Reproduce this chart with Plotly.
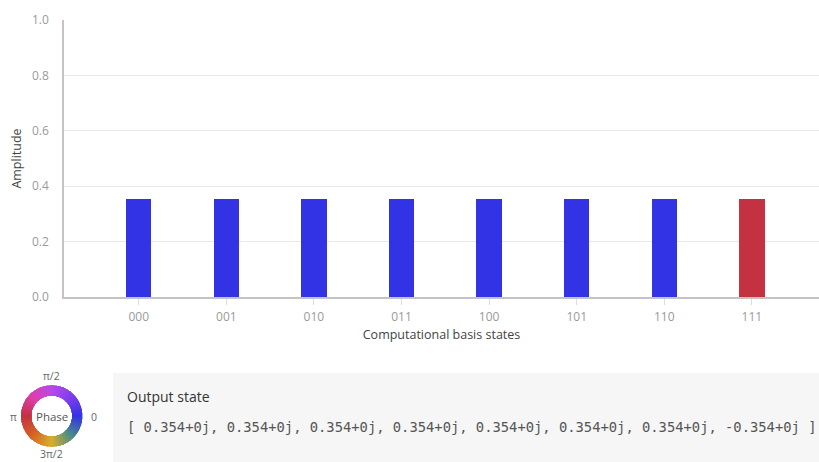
import numpy as np
import plotly.graph_objects as go

# Basis states and the complex output amplitudes (real parts; imaginary parts are 0)
states = ["000", "001", "010", "011", "100", "101", "110", "111"]
amp_real = [0.354, 0.354, 0.354, 0.354, 0.354, 0.354, 0.354, -0.354]
amp_imag = [0, 0, 0, 0, 0, 0, 0, 0]

y_ticks = [0.0, 0.2, 0.4, 0.6, 0.8, 1.0]
phase_labels = ["0", "π/2", "π", "3π/2"]

W, H = 819, 462


def px_x(x):
    return x / W


def px_y(y):
    return 1 - y / H


# Cyclic phase palette (angle in degrees -> rgb)
palette_deg = [0, 45, 90, 135, 180, 225, 270, 315, 360]
palette_rgb = [
    (51, 51, 230), (125, 62, 238), (185, 72, 232), (222, 62, 175),
    (196, 50, 66), (214, 98, 36), (214, 176, 44), (74, 140, 136), (51, 51, 230),
]


def phase_color(deg):
    deg = deg % 360
    r = np.interp(deg, palette_deg, [c[0] for c in palette_rgb])
    g = np.interp(deg, palette_deg, [c[1] for c in palette_rgb])
    b = np.interp(deg, palette_deg, [c[2] for c in palette_rgb])
    return f"rgb({int(r)},{int(g)},{int(b)})"


amps = np.array(amp_real) + 1j * np.array(amp_imag)
magnitudes = np.abs(amps)
phases_deg = np.degrees(np.angle(amps))
bar_colors = [phase_color(p) for p in phases_deg]

fig = go.Figure()

fig.add_trace(go.Bar(
    x=states, y=magnitudes, marker=dict(color=bar_colors, line=dict(width=0)),
    width=0.29, showlegend=False, hoverinfo="x+y",
))

# Phase colour wheel
n_seg = 120
seg_theta = np.linspace(0, 360, n_seg, endpoint=False)
fig.add_trace(go.Barpolar(
    r=[1] * n_seg, theta=seg_theta, width=[360 / n_seg + 0.6] * n_seg,
    base=0,
    marker=dict(color=[phase_color(t) for t in seg_theta], line=dict(width=0)),
    showlegend=False, hoverinfo="skip", subplot="polar",
))

tick_font = dict(family="Open Sans, Lato, sans-serif", size=12, color="#9a9a9a")
title_font = dict(family="Open Sans, Lato, sans-serif", size=12.5, color="#444444")

cx, cy = 51.7, 416
wheel_half = 31

fig.update_layout(
    width=W, height=H,
    margin=dict(l=0, r=0, t=0, b=0, pad=0),
    paper_bgcolor="white", plot_bgcolor="white",
    bargap=0,
    xaxis=dict(
        domain=[px_x(64), 1],
        type="category", range=[-0.853, 7.766], automargin=False,
        showline=True, linecolor="#c4c4c4", linewidth=1.5,
        ticks="outside", ticklen=6, tickcolor="#dddddd", tickwidth=1,
        ticklabelstandoff=2,
        tickfont=tick_font, showgrid=False,
        title=dict(text="Computational basis states", font=title_font, standoff=6),
    ),
    yaxis=dict(
        domain=[px_y(297), px_y(20)], automargin=False,
        range=[0, 1.0], tickvals=y_ticks, ticktext=[f"{v:.1f}" for v in y_ticks],
        showline=True, linecolor="#c4c4c4", linewidth=1.5,
        gridcolor="#e8e8e8", gridwidth=1, zeroline=False,
        ticks="", ticklabelstandoff=11, tickfont=tick_font,
        title=dict(text="Amplitude", font=title_font, standoff=8),
    ),
    polar=dict(
        domain=dict(x=[px_x(cx - wheel_half), px_x(cx + wheel_half)],
                    y=[px_y(cy + wheel_half), px_y(cy - wheel_half)]),
        hole=0.645, bgcolor="rgba(0,0,0,0)",
        radialaxis=dict(visible=False, range=[0, 1]),
        angularaxis=dict(visible=False, rotation=0, direction="counterclockwise"),
    ),
)

# Output state panel
fig.add_shape(type="rect", xref="paper", yref="paper",
              x0=px_x(113), x1=1, y0=0, y1=px_y(373),
              fillcolor="#f6f6f6", line=dict(width=0), layer="below")

ann = []
label_pos = {"0": (94, 417), "π/2": (cx, 376), "π": (13, 417), "3π/2": (cx, 454)}
for lab in phase_labels:
    lx, ly = label_pos[lab]
    ann.append(dict(x=px_x(lx), y=px_y(ly), xref="paper", yref="paper", text=lab,
                    showarrow=False, xanchor="center", yanchor="middle",
                    font=dict(family="Open Sans, Lato, sans-serif", size=10.5, color="#666666")))
ann.append(dict(x=px_x(cx), y=px_y(cy), xref="paper", yref="paper", text="Phase",
                showarrow=False, xanchor="center", yanchor="middle",
                font=dict(family="Open Sans, Lato, sans-serif", size=11.5, color="#555555")))
ann.append(dict(x=px_x(125), y=px_y(396), xref="paper", yref="paper", text="Output state",
                showarrow=False, xanchor="left", yanchor="middle",
                font=dict(family="Open Sans, Lato, sans-serif", size=14, color="#333333")))


def fmt(z):
    return f"{z.real:.3f}+{int(abs(z.imag))}j"


state_text = "[ " + ", ".join(fmt(z) for z in amps) + " ]"
ann.append(dict(x=px_x(125), y=px_y(427), xref="paper", yref="paper", text=state_text,
                showarrow=False, xanchor="left", yanchor="middle",
                font=dict(family="DejaVu Sans Mono, monospace", size=13.8, color="#555555")))
fig.update_layout(annotations=ann)

fig.write_html("out.html")
